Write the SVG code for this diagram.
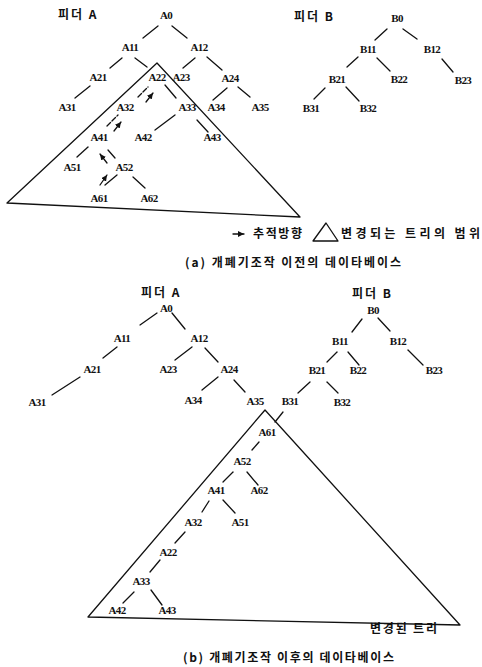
<svg xmlns="http://www.w3.org/2000/svg" width="482" height="667" viewBox="0 0 482 667">
<defs>
<marker id="ah" markerUnits="userSpaceOnUse" markerWidth="8" markerHeight="8" refX="6" refY="3" orient="auto">
<path d="M0,0 L6,3 L0,6 Z" fill="#111"/>
</marker>
<style>
.n text{font-family:"Liberation Serif","DejaVu Serif",serif;font-weight:bold;font-size:11px;letter-spacing:-0.6px;fill:#111;text-anchor:middle;dominant-baseline:central}
.k{font-family:"Noto Sans CJK KR",sans-serif;font-weight:bold;font-size:12px;fill:#111}
.f{letter-spacing:2px}
.e line{stroke:#111;stroke-width:1.3;stroke-linecap:round}
.d{stroke-dasharray:5 2}
.t{stroke:#111;stroke-width:1.3;marker-end:url(#ah)}
.tri{fill:none;stroke:#111;stroke-width:1.3;stroke-linejoin:round}
</style>
</defs>
<rect width="482" height="667" fill="#fff"/>

<!-- (a) -->
<text class="k f" x="58" y="19">피더 A</text>
<text class="k f" x="294" y="21">피더 B</text>
<g class="n">
<g id="a-A0"><text x="166" y="15">A0</text></g>
<g id="a-A11"><text x="130" y="47">A11</text></g>
<g id="a-A12"><text x="199" y="47">A12</text></g>
<g id="a-A21"><text x="98" y="77">A21</text></g>
<g id="a-A22"><text x="157" y="77">A22</text></g>
<g id="a-A23"><text x="181" y="77">A23</text></g>
<g id="a-A24"><text x="230" y="78">A24</text></g>
<g id="a-A31"><text x="67" y="107">A31</text></g>
<g id="a-A32"><text x="125" y="107">A32</text></g>
<g id="a-A33"><text x="187" y="107">A33</text></g>
<g id="a-A34"><text x="216" y="107">A34</text></g>
<g id="a-A35"><text x="260" y="107">A35</text></g>
<g id="a-A41"><text x="99" y="137">A41</text></g>
<g id="a-A42"><text x="143" y="137">A42</text></g>
<g id="a-A43"><text x="212" y="137">A43</text></g>
<g id="a-A51"><text x="72" y="167">A51</text></g>
<g id="a-A52"><text x="124" y="167">A52</text></g>
<g id="a-A61"><text x="99" y="198">A61</text></g>
<g id="a-A62"><text x="149" y="198">A62</text></g>
<g id="a-B0"><text x="397" y="18">B0</text></g>
<g id="a-B11"><text x="368" y="49">B11</text></g>
<g id="a-B12"><text x="432" y="49">B12</text></g>
<g id="a-B21"><text x="337" y="79">B21</text></g>
<g id="a-B22"><text x="399" y="79">B22</text></g>
<g id="a-B23"><text x="463" y="80">B23</text></g>
<g id="a-B31"><text x="311" y="108">B31</text></g>
<g id="a-B32"><text x="368" y="108">B32</text></g>
</g>
<g id="a-region"><path class="tri" d="M157,63 L7,203 L300,217 Z"/></g>
<g class="e" id="a-connectors">
<line x1="143" y1="38" x2="158" y2="26"/>
<line x1="172" y1="26" x2="187" y2="38"/>
<line x1="110" y1="68" x2="122" y2="58"/>
<line x1="135" y1="58" x2="147" y2="67"/>
<line x1="183" y1="68" x2="195" y2="58"/>
<line x1="207" y1="57" x2="222" y2="70"/>
<line x1="75" y1="98" x2="90" y2="86"/>
<line class="d" x1="138" y1="97" x2="148" y2="87"/>
<line x1="165" y1="85" x2="176" y2="98"/>
<line x1="213" y1="100" x2="227" y2="88"/>
<line x1="238" y1="87" x2="250" y2="97"/>
<line class="d" x1="107" y1="126" x2="118" y2="115"/>
<line x1="155" y1="130" x2="175" y2="115"/>
<line x1="197" y1="120" x2="208" y2="132"/>
<line x1="77" y1="157" x2="88" y2="147"/>
<line x1="108" y1="150" x2="115" y2="158"/>
<line x1="105" y1="185" x2="117" y2="175"/>
<line x1="133" y1="177" x2="145" y2="188"/>
<line x1="375" y1="40" x2="387" y2="29"/>
<line x1="403" y1="29" x2="417" y2="39"/>
<line x1="347" y1="67" x2="358" y2="57"/>
<line x1="377" y1="58" x2="390" y2="71"/>
<line x1="442" y1="59" x2="453" y2="72"/>
<line x1="314" y1="99" x2="325" y2="88"/>
<line x1="346" y1="87" x2="359" y2="101"/>
<line class="t" x1="146" y1="102" x2="153" y2="93"/>
<line class="t" x1="114" y1="131" x2="121" y2="122"/>
<line class="t" x1="107" y1="163" x2="100" y2="154"/>
<line class="t" x1="100" y1="185" x2="107" y2="175"/>
<line class="t" x1="233" y1="234" x2="244" y2="234"/>
</g>
<path class="tri" d="M326,223 L313,241 L338,241 Z"/>
<text class="k" x="253" y="238" textLength="49" lengthAdjust="spacing">추적방향</text>
<text class="k" x="341" y="238" textLength="139" lengthAdjust="spacing">변경되는 트리의 범위</text>
<text class="k" x="185" y="267" textLength="216" lengthAdjust="spacing">(a) 개폐기조작 이전의 데이타베이스</text>

<!-- (b) -->
<text class="k f" x="141" y="297">피더 A</text>
<text class="k f" x="352" y="298">피더 B</text>
<g class="n">
<g id="b-A0"><text x="166" y="308">A0</text></g>
<g id="b-A11"><text x="122" y="338">A11</text></g>
<g id="b-A12"><text x="199" y="338">A12</text></g>
<g id="b-A21"><text x="92" y="369">A21</text></g>
<g id="b-A23"><text x="168" y="369">A23</text></g>
<g id="b-A24"><text x="229" y="369">A24</text></g>
<g id="b-A31"><text x="37" y="402">A31</text></g>
<g id="b-A34"><text x="193" y="400">A34</text></g>
<g id="b-A35"><text x="255" y="401">A35</text></g>
<g id="b-A61"><text x="267" y="432">A61</text></g>
<g id="b-A52"><text x="242" y="461">A52</text></g>
<g id="b-A62"><text x="259" y="490">A62</text></g>
<g id="b-A41"><text x="216" y="490">A41</text></g>
<g id="b-A51"><text x="240" y="522">A51</text></g>
<g id="b-A32"><text x="193" y="522">A32</text></g>
<g id="b-A22"><text x="168" y="552">A22</text></g>
<g id="b-A33"><text x="141" y="581">A33</text></g>
<g id="b-A42"><text x="117" y="610">A42</text></g>
<g id="b-A43"><text x="167" y="610">A43</text></g>
<g id="b-B0"><text x="373" y="310">B0</text></g>
<g id="b-B11"><text x="340" y="341">B11</text></g>
<g id="b-B12"><text x="398" y="341">B12</text></g>
<g id="b-B21"><text x="317" y="370">B21</text></g>
<g id="b-B22"><text x="358" y="370">B22</text></g>
<g id="b-B23"><text x="434" y="370">B23</text></g>
<g id="b-B31"><text x="290" y="401">B31</text></g>
<g id="b-B32"><text x="342" y="402">B32</text></g>
</g>
<g id="b-region"><path class="tri" d="M265,410 L88,617 L460,625 Z"/></g>
<g class="e" id="b-connectors">
<line x1="140" y1="325" x2="157" y2="313"/>
<line x1="172" y1="313" x2="185" y2="329"/>
<line x1="103" y1="358" x2="117" y2="347"/>
<line x1="175" y1="360" x2="192" y2="347"/>
<line x1="205" y1="348" x2="218" y2="362"/>
<line x1="52" y1="395" x2="80" y2="377"/>
<line x1="202" y1="390" x2="218" y2="377"/>
<line x1="234" y1="380" x2="245" y2="392"/>
<line x1="352" y1="332" x2="362" y2="319"/>
<line x1="378" y1="318" x2="390" y2="331"/>
<line x1="327" y1="362" x2="337" y2="352"/>
<line x1="348" y1="352" x2="359" y2="365"/>
<line x1="408" y1="350" x2="423" y2="365"/>
<line x1="298" y1="393" x2="310" y2="382"/>
<line x1="327" y1="382" x2="338" y2="393"/>
<line x1="275" y1="422" x2="283" y2="412"/>
<line x1="252" y1="450" x2="259" y2="442"/>
<line x1="223" y1="482" x2="233" y2="472"/>
<line x1="247" y1="472" x2="258" y2="485"/>
<line x1="202" y1="512" x2="209" y2="501"/>
<line x1="223" y1="500" x2="235" y2="513"/>
<line x1="175" y1="543" x2="185" y2="532"/>
<line x1="150" y1="572" x2="160" y2="560"/>
<line x1="123" y1="603" x2="134" y2="592"/>
<line x1="151" y1="590" x2="162" y2="605"/>
</g>
<text class="k" x="370" y="633" textLength="67" lengthAdjust="spacing">변경된 트리</text>
<text class="k" x="183" y="662" textLength="211" lengthAdjust="spacing">(b) 개폐기조작 이후의 데이타베이스</text>
</svg>
